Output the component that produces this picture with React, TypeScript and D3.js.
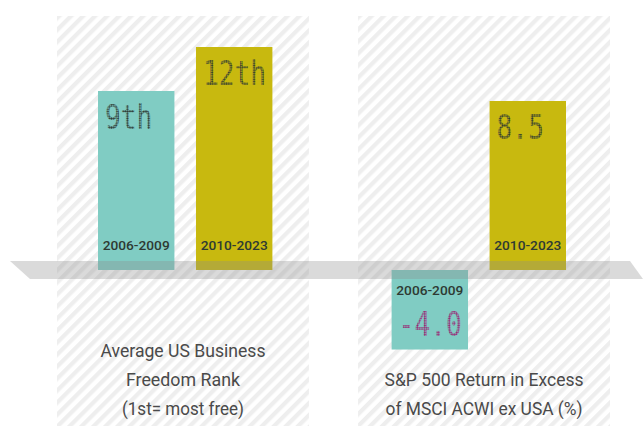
import React from "react";
import * as d3 from "d3";

const panels = ["rank", "excess"];
const periods = ["2006-2009", "2010-2023"];
const rankValues = [9, 12];
const rankLabels = ["9th", "12th"];
const excessValues = [-4.0, 8.5];
const excessLabels = ["-4.0", "8.5"];
const titleRank = ["Average US Business", "Freedom Rank", "(1st= most free)"];
const titleExcess = ["S&P 500 Return in Excess", "of MSCI ACWI ex USA (%)"];

const W = 644;
const H = 426;
const BASE = 270;
const TEAL = "#80ccc3";
const OLIVE = "#c8b90f";
const colors = [TEAL, OLIVE];

export default function App() {
  const panelX = d3.scaleBand<string>().domain(panels).range([57, 610]).paddingInner(0.163);
  const groupX = d3.scaleBand<string>().domain(panels).range([98, 566]).paddingInner(0.406);
  const inner = d3.scaleBand<string>().domain(periods).range([0, groupX.bandwidth()]).paddingInner(0.22);

  // rank heights (as drawn)
  const rankH = d3.scaleLinear().domain([9, 12]).range([179, 223]);
  const excessY = d3.scaleLinear().domain([0, 8.5]).range([BASE, 101]);

  const bars: any[] = [];
  periods.forEach((p, i) => {
    const x = groupX("rank")! + inner(p)!;
    const h = rankH(rankValues[i]);
    bars.push({ panel: "rank", x, y: BASE - h, h, color: colors[i], label: rankLabels[i], period: p, neg: false, i });
  });
  periods.forEach((p, i) => {
    const x = groupX("excess")! + inner(p)!;
    const v = excessValues[i];
    const y0 = excessY(Math.max(0, v));
    const y1 = excessY(Math.min(0, v));
    bars.push({ panel: "excess", x, y: y0, h: y1 - y0, color: colors[i], label: excessLabels[i], period: p, neg: v < 0, i });
  });

  const bw = inner.bandwidth();
  const titleFont = "Roboto, 'Liberation Sans', sans-serif";
  const titles = [
    { panel: "rank", lines: titleRank, lens: [165, 114, 122], y0: 357 },
    { panel: "excess", lines: titleExcess, lens: [199, 197], y0: 386 },
  ];

  return (
    <svg width={W} height={H} style={{ position: "absolute", left: 0, top: 0, background: "#fff" }}>
      <defs>
        <pattern id="hatch" width="8.5" height="8.5" patternUnits="userSpaceOnUse" patternTransform="rotate(45)">
          <rect width="8.5" height="8.5" fill="#ffffff" />
          <rect width="4.2" height="8.5" fill="#eeeeee" />
        </pattern>
        <pattern id="dotsDark" width="2.3" height="2.3" patternUnits="userSpaceOnUse">
          <circle cx="1.15" cy="1.15" r="1.0" fill="#2c3631" />
        </pattern>
        <pattern id="dotsMag" width="2.3" height="2.3" patternUnits="userSpaceOnUse">
          <circle cx="1.15" cy="1.15" r="1.0" fill="#9a2070" />
        </pattern>
      </defs>
      {panels.map((p) => (
        <rect key={p} x={panelX(p)} y={16} width={panelX.bandwidth()} height={H - 16} fill="url(#hatch)" />
      ))}
      {bars.map((b, k) => (
        <rect key={"b" + k} x={b.x} y={b.y} width={bw} height={b.h} fill={b.color} />
      ))}
      <polygon points={`10,261 630,261 643,279 30,279`} fill="#8c8c8c" fillOpacity={0.32} />
      {bars.map((b, k) => {
        const periodY = b.neg ? BASE + 25 : BASE - 20;
        const valueY = b.neg ? b.y + b.h - 14 : b.y + 38;
        const txtW = b.label.length * 15.8;
        return (
          <g key={"t" + k}>
            <text
              x={b.x + bw / 2}
              y={periodY}
              textAnchor="middle"
              fontFamily={titleFont}
              fontWeight={500}
              fontSize={12}
              fill="#2e3a33"
              textLength={67}
              lengthAdjust="spacingAndGlyphs"
            >
              {b.period}
            </text>
            <text
              x={b.x + 7}
              y={valueY}
              fontFamily="'DejaVu Sans Mono', monospace"
              fontSize={33}
              fill={b.neg ? "url(#dotsMag)" : "url(#dotsDark)"}
              textLength={txtW}
              lengthAdjust="spacingAndGlyphs"
            >
              {b.label}
            </text>
          </g>
        );
      })}
      {titles.map((t) =>
        t.lines.map((line, j) => (
          <text
            key={t.panel + j}
            x={panelX(t.panel)! + panelX.bandwidth() / 2}
            y={t.y0 + j * 29}
            textAnchor="middle"
            fontFamily={titleFont}
            fontSize={19}
            fill="#4a4a4a"
            textLength={t.lens[j]}
            lengthAdjust="spacingAndGlyphs"
          >
            {line}
          </text>
        ))
      )}
    </svg>
  );
}
